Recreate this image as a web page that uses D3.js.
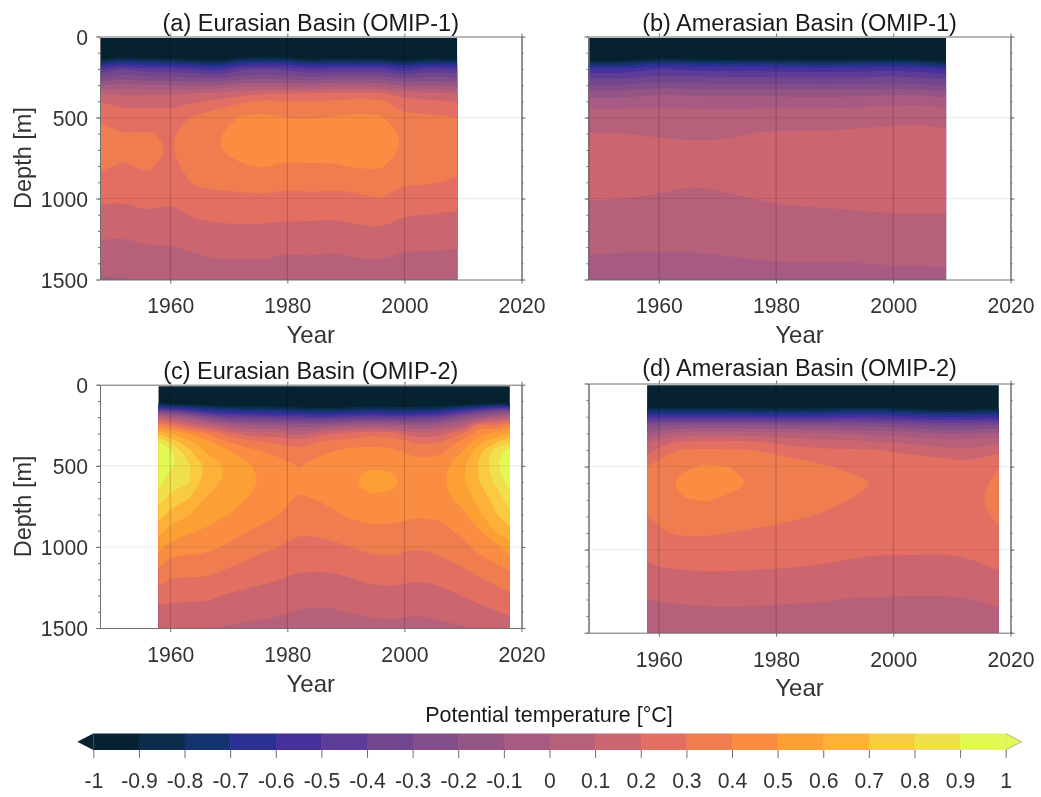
<!DOCTYPE html>
<html>
<head>
<meta charset="utf-8">
<script src="https://cdn.jsdelivr.net/npm/d3@7"></script>
<style>
  html, body { margin: 0; padding: 0; background: #fff; }
  text { font-family: "Liberation Sans", Arial, sans-serif; }
  svg { filter: blur(0.4px); }
</style>
</head>
<body>
<div id="chart"></div>
<script>
var depthLevels = [10, 120, 160, 200, 250, 300, 350, 400, 450, 500, 600, 700, 800, 900, 1000, 1100, 1200, 1300, 1400, 1500];

// each row below is one year's temperature profile at depthLevels
var yearsA = [1948, 1952, 1956, 1960, 1964, 1968, 1972, 1976, 1980, 1984, 1988, 1992, 1996, 2000, 2004, 2009];
var tempA = [
  [-1.5, -1.07, -.77, -.50, -.31, -.12, .10, .195, .24, .285, .335, .345, .315, .27, .22, .17, .125, .08, .04, -.01],
  [-1.5, -.94, -.67, -.40, -.25, -.06, .07, .16, .205, .245, .30, .325, .29, .25, .21, .165, .12, .075, .04, -.005],
  [-1.5, -1.02, -.73, -.47, -.29, -.10, .08, .17, .21, .25, .31, .35, .315, .27, .23, .19, .14, .095, .06, .02],
  [-1.5, -1.02, -.73, -.47, -.29, -.10, .08, .16, .205, .25, .285, .29, .27, .24, .215, .175, .135, .095, .06, .02],
  [-1.5, -1.07, -.77, -.50, -.31, -.12, .10, .185, .26, .31, .36, .37, .345, .31, .26, .21, .16, .115, .07, .03],
  [-1.5, -1.13, -.83, -.57, -.34, -.10, .125, .22, .30, .34, .39, .395, .365, .325, .275, .225, .175, .13, .09, .05],
  [-1.5, -.97, -.69, -.43, -.27, -.04, .16, .28, .36, .41, .445, .44, .39, .33, .28, .23, .18, .135, .085, .04],
  [-1.5, -.94, -.67, -.40, -.25, -.03, .19, .32, .38, .42, .46, .465, .405, .345, .285, .23, .175, .135, .09, .05],
  [-1.5, -.97, -.69, -.43, -.27, -.05, .195, .30, .35, .40, .44, .445, .385, .325, .27, .22, .17, .12, .07, .03],
  [-1.5, -1.07, -.77, -.50, -.30, -.06, .20, .30, .35, .395, .44, .445, .39, .335, .28, .22, .17, .125, .08, .04],
  [-1.5, -1.02, -.73, -.47, -.27, -.03, .22, .31, .36, .405, .44, .445, .39, .325, .27, .215, .16, .115, .07, .03],
  [-1.5, -1.04, -.75, -.48, -.27, -.03, .23, .33, .385, .415, .45, .455, .41, .345, .28, .23, .18, .13, .085, .04],
  [-1.5, -1.02, -.73, -.47, -.27, -.04, .21, .32, .375, .41, .45, .45, .41, .35, .30, .24, .19, .14, .09, .05],
  [-1.5, -1.13, -.83, -.57, -.34, -.12, .145, .235, .28, .33, .385, .385, .35, .31, .255, .205, .16, .11, .07, .03],
  [-1.5, -1.02, -.73, -.47, -.29, -.10, .12, .22, .275, .32, .365, .37, .345, .31, .25, .20, .155, .11, .07, .03],
  [-1.5, -1.07, -.77, -.50, -.31, -.12, .10, .195, .26, .30, .35, .36, .33, .285, .235, .19, .15, .105, .065, .03]
];

var yearsB = [1948, 1954, 1960, 1966, 1972, 1978, 1984, 1992, 2000, 2005, 2009];
var tempB = [
  [-1.5, -1.15, -.83, -.585, -.42, -.30, -.15, -.065, .004, .04, .105, .14, .15, .13, .105, .075, .05, .015, -.015, -.05],
  [-1.5, -1.15, -.83, -.585, -.42, -.30, -.15, -.065, .003, .035, .10, .14, .15, .13, .10, .075, .04, .01, -.02, -.05],
  [-1.5, -1.03, -.72, -.50, -.38, -.25, -.11, -.03, .007, .035, .09, .135, .15, .125, .09, .065, .04, .01, -.02, -.05],
  [-1.5, -1.07, -.75, -.53, -.39, -.27, -.125, -.05, .003, .03, .08, .125, .14, .105, .08, .06, .035, .01, -.02, -.05],
  [-1.5, -1.09, -.76, -.54, -.40, -.28, -.13, -.055, 0, .03, .085, .13, .145, .12, .09, .07, .045, .02, -.015, -.05],
  [-1.5, -1.09, -.76, -.54, -.40, -.28, -.13, -.05, .007, .045, .11, .15, .16, .14, .105, .08, .055, .03, -.005, -.04],
  [-1.5, -1.11, -.79, -.555, -.41, -.285, -.14, -.05, .007, .05, .11, .155, .165, .145, .115, .085, .06, .03, -.002, -.04],
  [-1.5, -1.11, -.79, -.555, -.41, -.285, -.14, -.05, .01, .055, .115, .16, .17, .15, .12, .09, .065, .03, -.002, -.04],
  [-1.5, -1.07, -.75, -.53, -.39, -.27, -.12, -.025, .025, .075, .125, .165, .175, .16, .13, .098, .075, .045, .005, -.03],
  [-1.5, -1.11, -.79, -.555, -.41, -.285, -.13, -.02, .03, .08, .125, .165, .175, .16, .13, .098, .075, .045, .007, -.03],
  [-1.5, -1.17, -.86, -.60, -.43, -.31, -.16, -.05, .01, .055, .12, .16, .17, .15, .125, .098, .075, .045, .01, -.03]
];

var yearsC = [1958, 1960, 1963, 1966, 1970, 1974, 1978, 1982, 1986, 1990, 1994, 1998, 2002, 2006, 2010, 2013, 2016, 2018];
var tempC = [
  [-1.5, -.85, -.35, .10, .41, .67, .905, .97, 1.0, .985, .93, .845, .745, .635, .53, .425, .33, .245, .17, .12],
  [-1.5, -.90, -.40, .00, .33, .60, .77, .90, .945, .92, .85, .77, .67, .565, .47, .37, .30, .23, .17, .125],
  [-1.5, -.92, -.50, -.10, .20, .505, .625, .715, .78, .825, .815, .71, .61, .515, .44, .36, .29, .22, .16, .115],
  [-1.5, -.95, -.62, -.25, .10, .39, .53, .585, .63, .685, .66, .595, .54, .49, .425, .36, .29, .225, .165, .12],
  [-1.5, -.98, -.68, -.40, -.05, .25, .385, .495, .54, .575, .575, .54, .50, .44, .385, .32, .255, .19, .14, .09],
  [-1.5, -1.0, -.70, -.42, -.08, .12, .315, .41, .46, .50, .51, .49, .45, .395, .335, .28, .225, .175, .125, .08],
  [-1.5, -1.0, -.72, -.45, -.10, .15, .28, .36, .41, .445, .47, .455, .41, .355, .305, .25, .205, .16, .115, .07],
  [-1.5, -1.05, -.75, -.47, -.15, .05, .23, .32, .36, .395, .43, .385, .35, .31, .27, .225, .18, .135, .095, .05],
  [-1.5, -1.1, -.79, -.50, -.13, .17, .31, .37, .415, .445, .46, .415, .36, .32, .275, .225, .175, .13, .085, .05],
  [-1.5, -1.05, -.75, -.47, -.08, .22, .33, .41, .455, .48, .475, .465, .41, .35, .295, .24, .19, .145, .10, .06],
  [-1.5, -1.0, -.72, -.42, -.05, .27, .37, .42, .45, .495, .535, .49, .43, .38, .325, .27, .215, .165, .115, .07],
  [-1.5, -1.02, -.74, -.45, -.06, .25, .35, .41, .445, .49, .515, .485, .425, .385, .335, .275, .22, .175, .125, .07],
  [-1.5, -1.02, -.74, -.45, -.10, .12, .28, .35, .40, .43, .46, .445, .41, .355, .305, .25, .205, .155, .11, .065],
  [-1.5, -1.0, -.70, -.40, -.08, .15, .28, .365, .41, .445, .475, .455, .415, .37, .33, .275, .22, .165, .12, .08],
  [-1.5, -.95, -.55, -.20, .05, .30, .43, .49, .54, .58, .59, .54, .48, .425, .375, .315, .26, .205, .145, .095],
  [-1.5, -.90, -.42, -.10, .35, .47, .57, .67, .71, .725, .705, .645, .595, .50, .43, .375, .295, .23, .175, .13],
  [-1.5, -.85, -.30, .00, .31, .53, .70, .85, .885, .895, .84, .76, .705, .625, .485, .405, .33, .26, .20, .15],
  [-1.5, -.85, -.30, .05, .45, .60, .765, .93, .975, 1.0, .945, .855, .775, .675, .555, .45, .35, .285, .215, .16]
];

var yearsD = [1958, 1961, 1964, 1968, 1972, 1976, 1982, 1988, 1994, 1997, 2002, 2008, 2012, 2015, 2018];
var tempD = [
  [-1.5, -1.1, -.80, -.55, -.25, -.10, .08, .15, .22, .30, .35, .345, .295, .25, .225, .19, .145, .10, .07, .05],
  [-1.5, -1.1, -.80, -.55, -.22, -.02, .16, .26, .31, .34, .375, .385, .35, .295, .25, .205, .155, .105, .07, .05],
  [-1.5, -1.1, -.80, -.55, -.20, .05, .205, .31, .35, .385, .425, .395, .36, .31, .26, .21, .165, .11, .075, .05],
  [-1.5, -1.1, -.80, -.55, -.20, .06, .22, .31, .375, .41, .44, .405, .36, .31, .26, .215, .17, .115, .08, .05],
  [-1.5, -1.1, -.80, -.55, -.20, .06, .215, .31, .36, .40, .43, .385, .34, .30, .255, .215, .165, .115, .08, .05],
  [-1.5, -1.1, -.82, -.56, -.20, .05, .21, .30, .345, .375, .395, .375, .335, .29, .25, .21, .165, .115, .08, .05],
  [-1.5, -1.12, -.84, -.57, -.22, .03, .16, .25, .31, .33, .365, .35, .315, .27, .235, .205, .16, .11, .075, .05],
  [-1.5, -1.1, -.82, -.56, -.22, .01, .13, .215, .27, .31, .35, .33, .29, .26, .23, .195, .15, .105, .07, .05],
  [-1.5, -1.08, -.78, -.54, -.24, -.02, .12, .21, .25, .275, .32, .29, .26, .235, .215, .185, .14, .095, .065, .045],
  [-1.5, -1.08, -.78, -.54, -.24, -.03, .10, .205, .245, .27, .295, .28, .255, .23, .21, .18, .135, .095, .065, .045],
  [-1.5, -1.12, -.83, -.58, -.27, -.05, .08, .18, .225, .25, .27, .265, .25, .23, .21, .18, .135, .09, .06, .04],
  [-1.5, -1.2, -.88, -.62, -.33, -.10, .04, .13, .205, .23, .265, .27, .255, .235, .21, .175, .135, .09, .06, .04],
  [-1.5, -1.18, -.87, -.62, -.33, -.10, .04, .12, .19, .225, .26, .275, .26, .235, .215, .18, .14, .095, .065, .045],
  [-1.5, -1.15, -.85, -.60, -.30, -.08, .05, .13, .205, .24, .28, .295, .28, .25, .225, .195, .15, .105, .07, .05],
  [-1.5, -1.15, -.85, -.60, -.30, -.07, .07, .17, .24, .295, .33, .345, .32, .28, .24, .21, .165, .12, .075, .05]
];

var bandEdges = [-1, -.9, -.8, -.7, -.6, -.5, -.4, -.3, -.2, -.1, 0, .1, .2, .3, .4, .5, .6, .7, .8, .9];
var bandColors = ["#062230", "#0b2c4a", "#14346f", "#2a3192", "#45309c", "#5c3c96", "#71468f", "#834d89", "#935584", "#a75a82",
                  "#b7607a", "#cb656f", "#e26f62", "#ef7d50", "#fa8d42", "#fca036", "#fdb139", "#f9cb40", "#f0e04e", "#e3f855"];

var barTicks = [-1, -.9, -.8, -.7, -.6, -.5, -.4, -.3, -.2, -.1, 0, .1, .2, .3, .4, .5, .6, .7, .8, .9, 1];
var barTickLabels = ["-1", "-0.9", "-0.8", "-0.7", "-0.6", "-0.5", "-0.4", "-0.3", "-0.2", "-0.1", "0",
                     "0.1", "0.2", "0.3", "0.4", "0.5", "0.6", "0.7", "0.8", "0.9", "1"];
var yearTicks = [1960, 1980, 2000, 2020];
var depthTicks = [0, 500, 1000, 1500];
var depthMinorTicks = d3.range(0, 1501, 100);

var width = 1041, height = 797;
var axisColor = "#6e6e6e", tickTextColor = "#333", labelColor = "#333";

var svg = d3.select("#chart").append("svg").attr("width", width).attr("height", height).style("display", "block");

var panels = [
  { title: "(a) Eurasian Basin (OMIP-1)", years: yearsA, temps: tempA, left: 100, right: 521.5, top: 36.5, bottom: 279.5, titleY: 31, tickY: 0, yearY: 342.5, depth: true },
  { title: "(b) Amerasian Basin (OMIP-1)", years: yearsB, temps: tempB, left: 588.5, right: 1010.5, top: 36.5, bottom: 279.5, titleY: 31, tickY: 0, yearY: 342.5, depth: false },
  { title: "(c) Eurasian Basin (OMIP-2)", years: yearsC, temps: tempC, left: 100, right: 521.5, top: 384.7, bottom: 628, titleY: 379, tickY: 1, yearY: 692, depth: true },
  { title: "(d) Amerasian Basin (OMIP-2)", years: yearsD, temps: tempD, left: 588.5, right: 1010.5, top: 383.5, bottom: 632.7, titleY: 376, tickY: 1, yearY: 696, depth: false }
];

var styleAxis = function(g) {
  g.select(".domain").attr("stroke", axisColor).attr("stroke-width", 1);
  g.selectAll(".tick line").attr("stroke", axisColor).attr("stroke-width", 1);
  g.selectAll(".tick text").attr("fill", tickTextColor).style("font-size", "21.2px");
};

// corner cutting so the contour rings do not show the coarse grid; points on the field edge stay put
var smoothRing = function(ring, isEdge) {
  var pts = ring.slice(0, -1);
  for (var n = 0; n < 3; n++) {
    var out = [];
    for (var i = 0; i < pts.length; i++) {
      var p = pts[i], q = pts[(i + 1) % pts.length];
      var pe = isEdge(p), qe = isEdge(q);
      if (pe) out.push(p);
      if (pe && qe) continue;
      if (!pe) out.push([p[0] * 0.75 + q[0] * 0.25, p[1] * 0.75 + q[1] * 0.25]);
      if (!qe) out.push([p[0] * 0.25 + q[0] * 0.75, p[1] * 0.25 + q[1] * 0.75]);
    }
    pts = out;
  }
  return pts;
};

var drawField = function(g, p, x, y) {
  var nx = p.years.length, ny = depthLevels.length, values = [];
  for (var j = 0; j < ny; j++) {
    for (var i = 0; i < nx; i++) {
      values.push(p.temps[i][j]);
    }
  }
  // contour coordinates put grid value i at i + 0.5
  var colToYear = d3.scaleLinear().domain(p.years.map(function(d, i) { return i + 0.5; })).range(p.years).clamp(true);
  var rowToDepth = d3.scaleLinear().domain(depthLevels.map(function(d, i) { return i + 0.5; })).range(depthLevels).clamp(true);
  var x0 = x(p.years[0]), x1 = x(p.years[nx - 1]), y0 = y(depthLevels[0]), y1 = y(depthLevels[ny - 1]);
  var isEdge = function(pt) {
    return Math.abs(pt[0] - x0) < 0.01 || Math.abs(pt[0] - x1) < 0.01 || Math.abs(pt[1] - y0) < 0.01 || Math.abs(pt[1] - y1) < 0.01;
  };
  var line = d3.line();
  var thresholds = bandEdges.map(function(d, i) { return i === 0 ? d3.min(values) : d; });
  var contours = d3.contours().size([nx, ny]).thresholds(thresholds)(values);

  g.selectAll("path.band").data(contours).enter().append("path")
    .attr("class", "band")
    .attr("fill-rule", "evenodd")
    .attr("d", function(c) {
      var d = "";
      c.coordinates.forEach(function(poly) {
        poly.forEach(function(ring) {
          var px = ring.map(function(r) { return [x(colToYear(r[0])), y(rowToDepth(r[1]))]; });
          d += line(smoothRing(px, isEdge)) + "Z";
        });
      });
      return d;
    })
    .attr("fill", function(d, i) { return bandColors[i]; });
};

var drawPanel = function(p) {
  var x = d3.scaleLinear().domain([1948, 2020]).range([p.left, p.right]);
  var y = d3.scaleLinear().domain([0, 1500]).range([p.top, p.bottom]);
  var g = svg.append("g");

  drawField(g, p, x, y);

  // grid sits on top of the filled contours
  g.selectAll("line.vgrid").data(yearTicks.slice(0, 3)).enter().append("line")
    .attr("x1", function(d) { return x(d); }).attr("x2", function(d) { return x(d); })
    .attr("y1", p.top).attr("y2", p.bottom)
    .attr("stroke", "#000").attr("stroke-opacity", 0.2);
  g.selectAll("line.hgrid").data([500, 1000]).enter().append("line")
    .attr("x1", p.left).attr("x2", p.right)
    .attr("y1", function(d) { return y(d); }).attr("y2", function(d) { return y(d); })
    .attr("stroke", "#000").attr("stroke-opacity", 0.08);

  g.append("g").attr("transform", "translate(" + p.left + ",0)")
    .call(d3.axisLeft(y).tickValues(depthMinorTicks).tickSize(2).tickSizeOuter(0).tickFormat(""))
    .call(styleAxis);
  g.append("g").attr("transform", "translate(" + p.right + ",0)")
    .call(d3.axisRight(y).tickValues(depthMinorTicks).tickSize(2).tickSizeOuter(0).tickFormat(""))
    .call(styleAxis);
  var left = g.append("g").attr("transform", "translate(" + p.left + ",0)")
    .call(d3.axisLeft(y).tickValues(depthTicks).tickSize(4).tickSizeOuter(0).tickPadding(8)
      .tickFormat(p.depth ? d3.format("d") : ""))
    .call(styleAxis);
  left.selectAll(".tick text").attr("dy", "0.36em");
  g.append("g").attr("transform", "translate(" + p.right + ",0)")
    .call(d3.axisRight(y).tickValues(depthTicks).tickSize(4).tickSizeOuter(0).tickFormat(""))
    .call(styleAxis);
  g.append("g").attr("transform", "translate(0," + p.top + ")")
    .call(d3.axisTop(x).tickValues(yearTicks).tickSize(3).tickSizeOuter(0).tickFormat(""))
    .call(styleAxis);
  g.append("g").attr("transform", "translate(0," + p.bottom + ")")
    .call(d3.axisBottom(x).tickValues(yearTicks).tickSize(4).tickSizeOuter(0).tickPadding(14 + p.tickY).tickFormat(d3.format("d")))
    .call(styleAxis);

  g.append("text").attr("x", (p.left + p.right) / 2).attr("y", p.titleY)
    .attr("text-anchor", "middle").attr("fill", "#1a1a1a").style("font-size", "23.5px").text(p.title);
  g.append("text").attr("x", (p.left + p.right) / 2).attr("y", p.yearY)
    .attr("text-anchor", "middle").attr("fill", labelColor).style("font-size", "24px").text("Year");
  if (p.depth) {
    g.append("text").attr("transform", "translate(31," + (p.top + p.bottom) / 2 + ") rotate(-90)")
      .attr("text-anchor", "middle").attr("fill", labelColor).style("font-size", "23.5px").text("Depth [m]");
  }
};

panels.forEach(drawPanel);

// colour bar
var barX = d3.scaleLinear().domain([-1, 1]).range([93.3, 1005.7]);
var barTop = 733.5, barBottom = 750, barArrow = 16;
var bar = svg.append("g");

bar.append("path")
  .attr("d", d3.line()([[barX(-1), barTop], [barX(-1) - barArrow, (barTop + barBottom) / 2], [barX(-1), barBottom]]) + "Z")
  .attr("fill", bandColors[0]);
bar.append("path")
  .attr("d", d3.line()([[barX(1), barTop], [barX(1) + barArrow, (barTop + barBottom) / 2], [barX(1), barBottom]]) + "Z")
  .attr("fill", bandColors[19]).attr("stroke", "#999").attr("stroke-width", 0.7);
bar.selectAll("rect").data(bandEdges).enter().append("rect")
  .attr("x", function(d) { return barX(d); })
  .attr("width", barX(0.1) - barX(0) + 0.5)
  .attr("y", barTop).attr("height", barBottom - barTop)
  .attr("fill", function(d, i) { return bandColors[i]; });

var barAxis = bar.append("g").attr("transform", "translate(0," + barBottom + ")")
  .call(d3.axisBottom(barX).tickValues(barTicks).tickSize(8).tickSizeOuter(0).tickPadding(15)
    .tickFormat(function(d, i) { return barTickLabels[i]; }))
  .call(styleAxis);
barAxis.select(".domain").remove();

bar.append("text").attr("x", 549).attr("y", 721.5)
  .attr("text-anchor", "middle").attr("fill", "#1a1a1a").style("font-size", "21.5px").text("Potential temperature [°C]");
</script>
</body>
</html>
